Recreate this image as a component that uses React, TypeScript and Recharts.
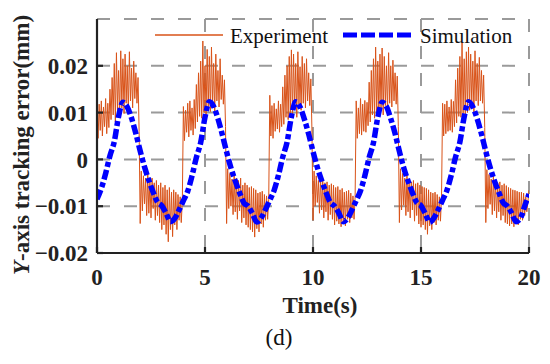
import { CartesianGrid, Label, Line, LineChart, XAxis, YAxis } from 'recharts';

// sampling interval (s) of each recording
const EXP_STEP = 0.05;
const SIM_STEP = 0.2;

// Experiment, Y-axis tracking error (mm), one array per 4 s cycle
const EXP_CYCLE_1 = [
  0.0100, 0.0045, 0.0118, 0.0062, 0.0125, 0.0050, 0.0112, 0.0070, 0.0130, 0.0055, 0.0120, 0.0068,
  0.0150, 0.0085, 0.0175, 0.0095, 0.0205, 0.0080, 0.0228, 0.0105, 0.0190, 0.0090, 0.0232, 0.0110,
  0.0215, 0.0098, 0.0225, 0.0120, 0.0200, 0.0100, 0.0230, 0.0125, 0.0195, 0.0110, 0.0210, 0.0130,
  0.0185, 0.0120, 0.0175, 0.0060,
  -0.0137, -0.0025, -0.0110, -0.0035, -0.0095, -0.0040, -0.0120, -0.0030, -0.0115, -0.0045,
  -0.0125, -0.0040, -0.0105, -0.0050, -0.0130, -0.0045, -0.0120, -0.0055, -0.0135, -0.0050,
  -0.0150, -0.0060, -0.0140, -0.0055, -0.0160, -0.0065, -0.0176, -0.0060, -0.0150, -0.0070,
  -0.0165, -0.0065, -0.0140, -0.0070, -0.0150, -0.0075, -0.0130, -0.0080, -0.0135, -0.0090,
];
const EXP_CYCLE_2 = [
  0.0113, 0.0040, 0.0105, 0.0058, 0.0120, 0.0048, 0.0125, 0.0062, 0.0110, 0.0052, 0.0128, 0.0066,
  0.0160, 0.0080, 0.0185, 0.0092, 0.0210, 0.0088, 0.0253, 0.0100, 0.0200, 0.0095, 0.0235, 0.0108,
  0.0220, 0.0102, 0.0240, 0.0118, 0.0205, 0.0096, 0.0225, 0.0125, 0.0190, 0.0112, 0.0215, 0.0128,
  0.0180, 0.0118, 0.0170, 0.0070,
  -0.0137, -0.0020, -0.0105, -0.0030, -0.0100, -0.0042, -0.0118, -0.0035, -0.0112, -0.0040,
  -0.0128, -0.0045, -0.0110, -0.0040, -0.0135, -0.0055, -0.0125, -0.0050, -0.0140, -0.0055,
  -0.0145, -0.0060, -0.0150, -0.0058, -0.0155, -0.0062, -0.0166, -0.0065, -0.0148, -0.0072,
  -0.0155, -0.0070, -0.0138, -0.0068, -0.0145, -0.0075, -0.0130, -0.0078, -0.0128, -0.0085,
];
const EXP_CYCLE_3 = [
  0.0137, 0.0050, 0.0115, 0.0045, 0.0120, 0.0060, 0.0108, 0.0065, 0.0125, 0.0058, 0.0118, 0.0070,
  0.0155, 0.0075, 0.0180, 0.0090, 0.0200, 0.0085, 0.0220, 0.0095, 0.0234, 0.0092, 0.0225, 0.0110,
  0.0205, 0.0090, 0.0230, 0.0118, 0.0198, 0.0105, 0.0220, 0.0120, 0.0205, 0.0110, 0.0215, 0.0125,
  0.0185, 0.0115, 0.0172, 0.0065,
  -0.0130, -0.0025, -0.0100, -0.0035, -0.0092, -0.0045, -0.0115, -0.0038, -0.0108, -0.0045,
  -0.0125, -0.0050, -0.0112, -0.0048, -0.0130, -0.0055, -0.0118, -0.0052, -0.0128, -0.0055,
  -0.0140, -0.0060, -0.0132, -0.0058, -0.0138, -0.0065, -0.0144, -0.0062, -0.0135, -0.0070,
  -0.0142, -0.0068, -0.0128, -0.0066, -0.0135, -0.0072, -0.0125, -0.0078, -0.0128, -0.0080,
];
const EXP_CYCLE_4 = [
  0.0125, 0.0045, 0.0110, 0.0055, 0.0130, 0.0052, 0.0118, 0.0060, 0.0126, 0.0058, 0.0122, 0.0072,
  0.0165, 0.0080, 0.0190, 0.0095, 0.0215, 0.0088, 0.0240, 0.0100, 0.0210, 0.0092, 0.0225, 0.0105,
  0.0238, 0.0095, 0.0220, 0.0115, 0.0200, 0.0102, 0.0228, 0.0120, 0.0200, 0.0112, 0.0212, 0.0125,
  0.0185, 0.0118, 0.0178, 0.0070,
  -0.0135, -0.0020, -0.0108, -0.0030, -0.0098, -0.0040, -0.0120, -0.0032, -0.0112, -0.0042,
  -0.0125, -0.0048, -0.0108, -0.0045, -0.0132, -0.0052, -0.0120, -0.0050, -0.0138, -0.0055,
  -0.0145, -0.0058, -0.0140, -0.0060, -0.0150, -0.0062, -0.0160, -0.0065, -0.0142, -0.0070,
  -0.0150, -0.0072, -0.0135, -0.0070, -0.0140, -0.0075, -0.0130, -0.0080, -0.0132, -0.0082,
];
const EXP_CYCLE_5 = [
  0.0120, 0.0050, 0.0118, 0.0055, 0.0125, 0.0060, 0.0112, 0.0062, 0.0128, 0.0058, 0.0124, 0.0070,
  0.0170, 0.0078, 0.0195, 0.0092, 0.0220, 0.0090, 0.0249, 0.0098, 0.0215, 0.0095, 0.0230, 0.0100,
  0.0240, 0.0105, 0.0225, 0.0118, 0.0210, 0.0100, 0.0232, 0.0125, 0.0205, 0.0115, 0.0218, 0.0125,
  0.0190, 0.0120, 0.0180, 0.0068,
  -0.0135, -0.0022, -0.0105, -0.0032, -0.0096, -0.0042, -0.0118, -0.0035, -0.0110, -0.0044,
  -0.0125, -0.0050, -0.0112, -0.0048, -0.0130, -0.0055, -0.0120, -0.0052, -0.0135, -0.0056,
  -0.0138, -0.0060, -0.0142, -0.0062, -0.0138, -0.0065, -0.0144, -0.0066, -0.0132, -0.0068,
  -0.0140, -0.0070, -0.0128, -0.0070, -0.0130, -0.0072, -0.0120, -0.0080, -0.0112, -0.0090,
];
const EXP_LAST = [-0.0066];

// Simulation (mm), one array per 4 s cycle
const SIM_CYCLE_1 = [
  -0.0085, -0.0062, -0.0030, 0.0008, 0.0038, 0.0092, 0.0122, 0.0112, 0.0088, 0.0055,
  0.0018, -0.0016, -0.0045, -0.0070, -0.0091, -0.0099, -0.0115, -0.0133, -0.0126, -0.0108,
];
const SIM_CYCLE_2 = [
  -0.0088, -0.0068, -0.0035, 0.0004, 0.0036, 0.0090, 0.0123, 0.0113, 0.0087, 0.0053,
  0.0016, -0.0018, -0.0046, -0.0071, -0.0093, -0.0100, -0.0116, -0.0134, -0.0125, -0.0107,
];
const SIM_CYCLE_3 = [
  -0.0087, -0.0066, -0.0034, 0.0005, 0.0037, 0.0091, 0.0123, 0.0112, 0.0086, 0.0054,
  0.0017, -0.0017, -0.0045, -0.0070, -0.0092, -0.0100, -0.0115, -0.0133, -0.0126, -0.0108,
];
const SIM_CYCLE_4 = [
  -0.0088, -0.0067, -0.0035, 0.0004, 0.0036, 0.0090, 0.0122, 0.0113, 0.0087, 0.0055,
  0.0017, -0.0018, -0.0046, -0.0071, -0.0092, -0.0099, -0.0116, -0.0134, -0.0125, -0.0107,
];
const SIM_CYCLE_5 = [
  -0.0087, -0.0066, -0.0034, 0.0005, 0.0037, 0.0091, 0.0123, 0.0112, 0.0087, 0.0054,
  0.0017, -0.0017, -0.0046, -0.0070, -0.0092, -0.0100, -0.0115, -0.0133, -0.0126, -0.0100,
];
const SIM_LAST = [-0.0074];

const X_TICKS = [0, 5, 10, 15, 20];
const Y_TICKS = [-0.02, -0.01, 0, 0.01, 0.02];

const ORANGE = '#D95319';
const BLUE = '#0000FF';
const INK = '#222222';
const SERIF = '"Liberation Serif", "Times New Roman", serif';

const toSeries = (values: number[], step: number) =>
  values.map((v, i) => ({ t: Math.round(i * step * 100) / 100, v }));

const experiment = toSeries(
  [...EXP_CYCLE_1, ...EXP_CYCLE_2, ...EXP_CYCLE_3, ...EXP_CYCLE_4, ...EXP_CYCLE_5, ...EXP_LAST],
  EXP_STEP
);
const simulation = toSeries(
  [...SIM_CYCLE_1, ...SIM_CYCLE_2, ...SIM_CYCLE_3, ...SIM_CYCLE_4, ...SIM_CYCLE_5, ...SIM_LAST],
  SIM_STEP
);

const frame = { stroke: INK, strokeWidth: 2.2 };

const formatY = (v: number) => (v === 0 ? '0' : (v < 0 ? '\u2212' : '') + Math.abs(v).toFixed(2));

const XTick = ({ x, y, payload }: any) => (
  <text x={x} y={y} dy="0.71em" textAnchor="middle" fontFamily={SERIF} fontSize={23} fontWeight="bold" fill={INK}>
    {payload.value}
  </text>
);

const YTick = ({ x, y, payload }: any) => (
  <text x={x} y={y} dy="0.355em" textAnchor="end" fontFamily={SERIF} fontSize={23} fontWeight="bold" fill={INK}>
    {formatY(payload.value)}
  </text>
);

export default function App() {
  return (
    <div style={{ position: 'absolute', left: 0, top: 0, width: 550, height: 364, background: '#fff' }}>
      <LineChart width={550} height={364} margin={{ top: 19, right: 21, bottom: 51, left: 0 }}>
        <CartesianGrid stroke="#9a9a9a" strokeWidth={2} strokeDasharray="13 14" />
        <Line
          data={experiment}
          dataKey="v"
          type="linear"
          stroke={ORANGE}
          strokeWidth={1}
          dot={false}
          isAnimationActive={false}
        />
        <Line
          data={simulation}
          dataKey="v"
          type="monotone"
          stroke={BLUE}
          strokeWidth={5.5}
          strokeDasharray="10 3 5 3"
          dot={false}
          isAnimationActive={false}
        />
        <XAxis
          dataKey="t"
          type="number"
          domain={[0, 20]}
          ticks={X_TICKS}
          allowDataOverflow
          height={60}
          tickSize={-6}
          tickMargin={22}
          tick={<XTick />}
          axisLine={frame}
          tickLine={frame}
        >
          <Label
            content={() => (
              <g>
                <text x={320} y={313} textAnchor="middle" fontFamily={SERIF} fontSize={23} fontWeight="bold" fill={INK}>
                  Time(s)
                </text>
                <text x={279} y={345} textAnchor="middle" fontFamily={SERIF} fontSize={23} fill="#111">
                  (d)
                </text>
              </g>
            )}
          />
        </XAxis>
        <XAxis
          xAxisId="top"
          orientation="top"
          type="number"
          domain={[0, 20]}
          ticks={X_TICKS}
          allowDataOverflow
          height={0}
          tick={false}
          tickSize={-6}
          axisLine={frame}
          tickLine={frame}
        />
        <YAxis
          type="number"
          domain={[-0.02, 0.03]}
          ticks={Y_TICKS}
          allowDataOverflow
          width={97}
          tickSize={-6}
          tickMargin={15}
          tick={<YTick />}
          axisLine={frame}
          tickLine={frame}
        >
          <Label
            content={() => (
              <text
                x={29}
                y={145}
                transform="rotate(-90, 29, 145)"
                textAnchor="middle"
                fontFamily={SERIF}
                fontSize={23}
                fontWeight="bold"
                fill={INK}
              >
                <tspan fontStyle="italic">Y</tspan>-axis tracking error(mm)
              </text>
            )}
          />
        </YAxis>
        <YAxis
          yAxisId="right"
          orientation="right"
          type="number"
          domain={[-0.02, 0.03]}
          ticks={Y_TICKS}
          allowDataOverflow
          width={0}
          tick={false}
          tickSize={-6}
          axisLine={frame}
          tickLine={frame}
        />
      </LineChart>
      <svg width={550} height={364} style={{ position: 'absolute', left: 0, top: 0, pointerEvents: 'none' }}>
        <line x1={155} x2={223} y1={35} y2={35} stroke={ORANGE} strokeWidth={1.6} />
        <text x={230} y={43} fontFamily={SERIF} fontSize={21} fill="#111">
          Experiment
        </text>
        <line x1={343} x2={413} y1={35} y2={35} stroke={BLUE} strokeWidth={5} strokeDasharray="14 4" />
        <text x={420} y={43} fontFamily={SERIF} fontSize={21} fill="#111">
          Simulation
        </text>
      </svg>
    </div>
  );
}
